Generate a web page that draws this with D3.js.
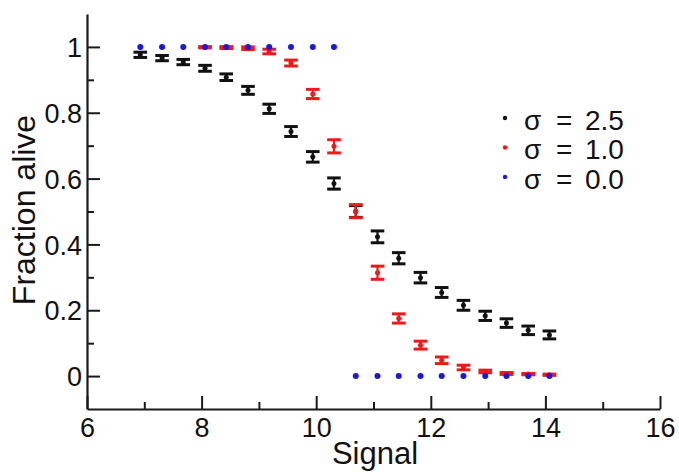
<!DOCTYPE html>
<html>
<head>
<meta charset="utf-8">
<script src="https://cdn.jsdelivr.net/npm/d3@7"></script>
<style>
  html, body { margin: 0; padding: 0; background: #ffffff; }
  svg { display: block; }
  text { font-family: "Liberation Sans", Arial, Helvetica, sans-serif; fill: #111; }
</style>
</head>
<body>
<svg id="chart" width="679" height="472"></svg>
<script>
// ---- data ----
const signal = [6.93, 7.31, 7.68, 8.06, 8.43, 8.81, 9.18, 9.56, 9.94, 10.31,
                10.69, 11.07, 11.44, 11.82, 12.19, 12.57, 12.95, 13.32, 13.70, 14.07];

const sigma25    = [0.976, 0.966, 0.954, 0.935, 0.908, 0.868, 0.812, 0.743, 0.666, 0.585,
                    0.500, 0.423, 0.358, 0.299, 0.254, 0.215, 0.183, 0.161, 0.139, 0.125];
const sigma25Err = [0.008, 0.008, 0.008, 0.009, 0.010, 0.012, 0.014, 0.015, 0.016, 0.017,
                    0.018, 0.018, 0.017, 0.016, 0.015, 0.015, 0.014, 0.013, 0.013, 0.012];

const sigma10    = [null, null, null, 0.999, 0.998, 0.996, 0.986, 0.951, 0.857, 0.698,
                    0.501, 0.314, 0.175, 0.094, 0.048, 0.026, 0.014, 0.008, 0.006, 0.004];
const sigma10Err = [null, null, null, 0.002, 0.003, 0.004, 0.007, 0.009, 0.014, 0.020,
                    0.020, 0.020, 0.014, 0.012, 0.010, 0.007, 0.004, 0.003, 0.002, 0.002];

const sigma00    = [1, 1, 1, 1, 1, 1, 1, 1, 1, 1,
                    0, 0, 0, 0, 0, 0, 0, 0, 0, 0];

const xTicks = [6, 8, 10, 12, 14, 16];
const xMinorTicks = [7, 9, 11, 13, 15];
const yTicks = [0, 0.2, 0.4, 0.6, 0.8, 1];
const yTickLabels = ["0", "0.2", "0.4", "0.6", "0.8", "1"];
const yMinorTicks = [0.1, 0.3, 0.5, 0.7, 0.9];

const legendLabels = [["σ", "=", "2.5"], ["σ", "=", "1.0"], ["σ", "=", "0.0"]];
const xTitle = "Signal";
const yTitle = "Fraction alive";

// ---- layout ----
const svg = d3.select("#chart");
const x = d3.scaleLinear().domain([6, 16]).range([87, 660]);
const y = d3.scaleLinear().domain([-0.1, 1.1]).range([409, 14]);
const axisColor = "#1a1a1a";

// minor ticks
svg.append("g").attr("transform", "translate(0,409)")
  .call(d3.axisBottom(x).tickValues(xMinorTicks).tickSize(-7).tickFormat(""))
  .call(g => g.select(".domain").remove());
svg.append("g").attr("transform", "translate(87,0)")
  .call(d3.axisLeft(y).tickValues(yMinorTicks).tickSize(-7).tickFormat(""))
  .call(g => g.select(".domain").remove());

// major x axis
const gx = svg.append("g").attr("transform", "translate(0,409)")
  .call(d3.axisBottom(x).tickValues(xTicks).tickSizeInner(-13).tickSizeOuter(0).tickPadding(0)
        .tickFormat(d3.format("d")));
gx.selectAll("text").attr("y", 28).attr("dy", 0).style("font-size", "27px")
  .style("font-family", "'Liberation Sans', Arial, sans-serif").attr("fill", "#111");

// major y axis
const gy = svg.append("g").attr("transform", "translate(87,0)")
  .call(d3.axisLeft(y).tickValues(yTicks).tickSizeInner(-13).tickSizeOuter(0)
        .tickFormat((d, i) => yTickLabels[i]));
gy.selectAll("text").attr("x", -5).attr("dy", "0.36em").style("font-size", "27px")
  .style("font-family", "'Liberation Sans', Arial, sans-serif").attr("fill", "#111");

svg.selectAll(".domain").attr("stroke", axisColor).attr("stroke-width", 2.2);
svg.selectAll(".tick line").attr("stroke", axisColor).attr("stroke-width", 2);

// axis titles
svg.append("text").attr("x", 375).attr("y", 464).attr("text-anchor", "middle")
  .style("font-size", "31px").text(xTitle);
svg.append("text").attr("transform", "translate(35,210) rotate(-90)")
  .attr("text-anchor", "middle").style("font-size", "32px").text(yTitle);

// ---- series ----
function errorSeries(vals, errs, color) {
  const pts = signal.map((s, i) => ({ s, v: vals[i], e: errs[i] })).filter(d => d.v !== null);
  const g = svg.append("g");
  const capW = 6.8;
  g.selectAll("line.v").data(pts).join("line")
    .attr("x1", d => x(d.s)).attr("x2", d => x(d.s))
    .attr("y1", d => y(d.v - d.e)).attr("y2", d => y(d.v + d.e))
    .attr("stroke", color).attr("stroke-width", 2.2);
  g.selectAll("line.top").data(pts).join("line")
    .attr("x1", d => x(d.s) - capW).attr("x2", d => x(d.s) + capW)
    .attr("y1", d => y(d.v + d.e)).attr("y2", d => y(d.v + d.e))
    .attr("stroke", color).attr("stroke-width", 3);
  g.selectAll("line.bot").data(pts).join("line")
    .attr("x1", d => x(d.s) - capW).attr("x2", d => x(d.s) + capW)
    .attr("y1", d => y(d.v - d.e)).attr("y2", d => y(d.v - d.e))
    .attr("stroke", color).attr("stroke-width", 3);
  g.selectAll("circle").data(pts).join("circle")
    .attr("cx", d => x(d.s)).attr("cy", d => y(d.v)).attr("r", 2.5).attr("fill", color);
}

errorSeries(sigma25, sigma25Err, "#111111");
errorSeries(sigma10, sigma10Err, "#f01818");

svg.append("g").selectAll("circle")
  .data(signal.map((s, i) => ({ s, v: sigma00[i] })))
  .join("circle")
  .attr("cx", d => x(d.s)).attr("cy", d => y(d.v)).attr("r", 3).attr("fill", "#1818e0");

// ---- legend ----
const legendColors = ["#111111", "#f01818", "#1818e0"];
const leg = svg.append("g");
legendLabels.forEach((lab, i) => {
  const cy = 119 + i * 29.5;
  leg.append("circle").attr("cx", 505).attr("cy", cy - 1).attr("r", 2.2).attr("fill", legendColors[i]);
  const t = leg.append("text").attr("y", cy + 10.5).style("font-size", "28px");
  t.append("tspan").attr("x", 524).text(lab[0]);
  t.append("tspan").attr("x", 556).text(lab[1]);
  t.append("tspan").attr("x", 585).text(lab[2]);
});
</script>
</body>
</html>
